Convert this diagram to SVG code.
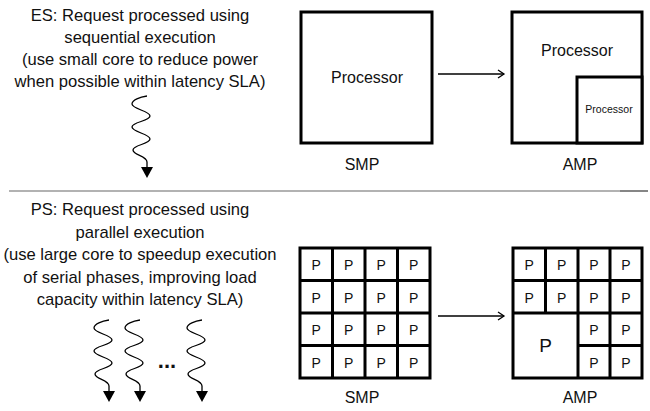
<svg xmlns="http://www.w3.org/2000/svg" width="650" height="411" viewBox="0 0 650 411">
<style>
text{font-family:"Liberation Sans",Arial,sans-serif;fill:#111;text-anchor:middle}
.d{font-size:16.6px}
.lbl{font-size:16px}
.p{font-size:14px}
.box{fill:#fff;stroke:#000;stroke-width:3}
.grid{fill:none;stroke:#000;stroke-width:3}
.conn{fill:none;stroke:#000;stroke-width:1.3}
.sq{fill:none;stroke:#000;stroke-width:1.3}
</style>
<defs>
<marker id="oa" markerWidth="10" markerHeight="10" refX="8" refY="5" orient="auto" markerUnits="userSpaceOnUse">
<polyline points="2,1 8,5 2,9" fill="none" stroke="#000" stroke-width="1.3"/>
</marker>
<g id="squig">
<path class="sq" d="M0,0 C-7,1 -15,4 -15,8 C-15,13 3,15 3,20 C3,25 -15,26 -15,31 C-15,36 3,38 3,43 C3,48 -14,49 -14,54 C-14,59 0,60 0,66 L0,71"/>
<polygon points="-6,71 6,71 0,82" fill="#000"/>
</g>
</defs>
<rect width="650" height="411" fill="#fff"/>

<g id="es-text">
<text class="d" x="140" y="21">ES: Request processed using</text>
<text class="d" x="140" y="43">sequential execution</text>
<text class="d" x="140" y="65">(use small core to reduce power</text>
<text class="d" x="140" y="87">when possible within latency SLA)</text>
</g>
<g id="es-request"><use href="#squig" x="147" y="96"/></g>

<g id="smp-top">
<rect class="box" x="301" y="12" width="131" height="131"/>
<text class="lbl" x="367" y="83">Processor</text>
<text class="lbl" x="362" y="170">SMP</text>
</g>
<g id="amp-top">
<rect class="box" x="512" y="12" width="130" height="131"/>
<rect class="box" x="577" y="77" width="65" height="66"/>
<text class="lbl" x="577" y="56">Processor</text>
<text x="609" y="113" style="font-size:10.5px">Processor</text>
<text class="lbl" x="580" y="170">AMP</text>
</g>

<g id="separator">
<line x1="9" y1="191" x2="620" y2="191" stroke="#999" stroke-width="1.3"/>
<line x1="620" y1="191" x2="648" y2="191" stroke="#444" stroke-width="1.3"/>
</g>

<g id="ps-text">
<text class="d" x="140" y="215">PS: Request processed using</text>
<text class="d" x="140" y="237.5">parallel execution</text>
<text class="d" x="140" y="260">(use large core to speedup execution</text>
<text class="d" x="140" y="282.5">of serial phases, improving load</text>
<text class="d" x="140" y="305">capacity within latency SLA)</text>
</g>
<g id="ps-requests">
<use href="#squig" x="109" y="320"/>
<use href="#squig" x="140" y="320"/>
<use href="#squig" x="202" y="320"/>
<text x="167" y="368" style="font-size:22px;font-weight:bold">...</text>
</g>

<g id="smp-bottom">
<rect class="box" x="300" y="248" width="130" height="130"/>
<path class="grid" d="M332.5,248V378M365,248V378M397.5,248V378M300,280.5H430M300,313H430M300,345.5H430"/>
<text class="p" x="316.25" y="270">P</text><text class="p" x="348.75" y="270">P</text><text class="p" x="381.25" y="270">P</text><text class="p" x="413.75" y="270">P</text>
<text class="p" x="316.25" y="302.5">P</text><text class="p" x="348.75" y="302.5">P</text><text class="p" x="381.25" y="302.5">P</text><text class="p" x="413.75" y="302.5">P</text>
<text class="p" x="316.25" y="335">P</text><text class="p" x="348.75" y="335">P</text><text class="p" x="381.25" y="335">P</text><text class="p" x="413.75" y="335">P</text>
<text class="p" x="316.25" y="367.5">P</text><text class="p" x="348.75" y="367.5">P</text><text class="p" x="381.25" y="367.5">P</text><text class="p" x="413.75" y="367.5">P</text>
<text class="lbl" x="362" y="403">SMP</text>
</g>

<g id="amp-bottom">
<rect class="box" x="513" y="248" width="129" height="130"/>
<path class="grid" d="M545.5,248V313M578,248V378M610,248V378M513,280.5H642M513,313H642M578,345.5H642"/>
<text class="p" x="529.25" y="270">P</text><text class="p" x="561.75" y="270">P</text><text class="p" x="594" y="270">P</text><text class="p" x="626" y="270">P</text>
<text class="p" x="529.25" y="302.5">P</text><text class="p" x="561.75" y="302.5">P</text><text class="p" x="594" y="302.5">P</text><text class="p" x="626" y="302.5">P</text>
<text class="p" x="594" y="335">P</text><text class="p" x="626" y="335">P</text>
<text class="p" x="594" y="367.5">P</text><text class="p" x="626" y="367.5">P</text>
<text x="545.5" y="352" style="font-size:19px">P</text>
<text class="lbl" x="580" y="403">AMP</text>
</g>

<g id="connectors">
<line class="conn" x1="438" y1="74" x2="504" y2="74" marker-end="url(#oa)"/>
<line class="conn" x1="438" y1="316" x2="504" y2="316" marker-end="url(#oa)"/>
</g>
</svg>
